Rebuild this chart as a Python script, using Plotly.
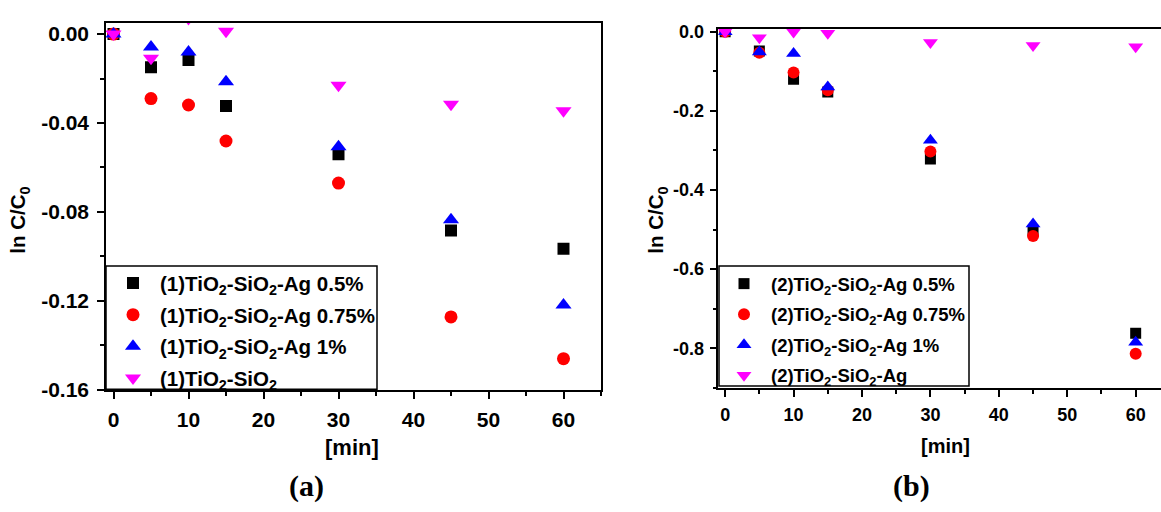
import plotly.graph_objects as go

W, H = 1161, 512

# ---------------- data ----------------
time_min = [0, 5, 10, 15, 30, 45, 60]

# panel (a)
a_ag05 = [0, -0.0149, -0.0117, -0.0323, -0.054, -0.0883, -0.0965]
a_ag075 = [0, -0.029, -0.0319, -0.0481, -0.067, -0.1272, -0.146]
a_ag1 = [0, -0.0058, -0.0081, -0.0214, -0.0507, -0.0835, -0.1219]
a_tisi = [0, -0.0109, 0.007, 0.0013, -0.023, -0.0316, -0.0345]

# panel (b)
b_ag05 = [0, -0.0487, -0.120, -0.1525, -0.3216, -0.503, -0.762]
b_ag075 = [0, -0.053, -0.103, -0.148, -0.303, -0.516, -0.814]
b_ag1 = [0, -0.051, -0.055, -0.140, -0.274, -0.486, -0.785]
b_tisiag = [0, -0.015, -0.001, -0.004, -0.027, -0.035, -0.038]

names_a = ["(1)TiO<sub>2</sub>-SiO<sub>2</sub>-Ag 0.5%",
           "(1)TiO<sub>2</sub>-SiO<sub>2</sub>-Ag 0.75%",
           "(1)TiO<sub>2</sub>-SiO<sub>2</sub>-Ag 1%",
           "(1)TiO<sub>2</sub>-SiO<sub>2</sub>"]
names_b = ["(2)TiO<sub>2</sub>-SiO<sub>2</sub>-Ag 0.5%",
           "(2)TiO<sub>2</sub>-SiO<sub>2</sub>-Ag 0.75%",
           "(2)TiO<sub>2</sub>-SiO<sub>2</sub>-Ag 1%",
           "(2)TiO<sub>2</sub>-SiO<sub>2</sub>-Ag"]

colors = ["#000000", "#FF0000", "#0000FF", "#FF00FF"]
symbols = ["square", "circle", "triangle-up", "triangle-down"]
sizes_a = [12, 13, 14, 14]
sizes_b = [11, 12, 13, 13]

FONT = "Liberation Sans, Arial, sans-serif"
SERIF = "Liberation Serif, Times New Roman, serif"

fig = go.Figure()

for i, (ys, nm) in enumerate(zip([a_ag05, a_ag075, a_ag1, a_tisi], names_a)):
    fig.add_trace(go.Scatter(
        x=time_min, y=ys, mode="markers", name=nm,
        marker=dict(symbol=symbols[i], color=colors[i], size=sizes_a[i], line=dict(width=0)),
        xaxis="x", yaxis="y", legend="legend", legendgroup="a%d" % i))

for i, (ys, nm) in enumerate(zip([b_ag05, b_ag075, b_ag1, b_tisiag], names_b)):
    fig.add_trace(go.Scatter(
        x=time_min, y=ys, mode="markers", name=nm,
        marker=dict(symbol=symbols[i], color=colors[i], size=sizes_b[i], line=dict(width=0)),
        xaxis="x2", yaxis="y2", legend="legend2", legendgroup="b%d" % i))


def px_x(p):
    return p / W


def px_y(p):
    return 1 - p / H


axis_common = dict(showgrid=False, zeroline=False, showline=True, linecolor="black",
                   linewidth=1.5, ticks="outside", tickcolor="black", tickwidth=1.5,
                   ticklen=7)
minor_common = dict(ticks="outside", ticklen=4, tickcolor="black", tickwidth=1.5)

fig.update_layout(
    width=W, height=H,
    margin=dict(l=0, r=0, t=0, b=0),
    paper_bgcolor="white", plot_bgcolor="white",
    xaxis=dict(**axis_common, domain=[px_x(106), px_x(601)], range=[-1, 65],
               tickvals=[0, 10, 20, 30, 40, 50, 60], mirror=True, anchor="y",
               ticklabelstandoff=3,
               minor=dict(dtick=5, tick0=0, **minor_common),
               tickfont=dict(family=FONT, size=21, color="black", weight="bold")),
    yaxis=dict(**axis_common, domain=[px_y(397), px_y(17.3)], range=[-0.16, 0.0051],
               tickvals=[0, -0.04, -0.08, -0.12, -0.16], ticktext=["0.00", "-0.04", "-0.08", "-0.12", "-0.16"],
               mirror=True, anchor="x", ticklabelstandoff=4,
               minor=dict(dtick=0.02, tick0=0, **minor_common),
               tickfont=dict(family=FONT, size=21, color="black", weight="bold")),
    xaxis2=dict(**axis_common, domain=[px_x(718.3), 1.0], range=[-1, 63.7],
                tickvals=[0, 10, 20, 30, 40, 50, 60], mirror=True, anchor="y2",
                ticklabelstandoff=3,
                minor=dict(dtick=5, tick0=0, **minor_common),
                tickfont=dict(family=FONT, size=18, color="black", weight="bold")),
    yaxis2=dict(**axis_common, domain=[px_y(395), px_y(23.3)], range=[-0.9, 0.008],
                tickvals=[0, -0.2, -0.4, -0.6, -0.8], ticktext=["0.0", "-0.2", "-0.4", "-0.6", "-0.8"],
                mirror=False, anchor="x2", ticklabelstandoff=2,
                minor=dict(dtick=0.1, tick0=0, **minor_common),
                tickfont=dict(family=FONT, size=18, color="black", weight="bold")),
    showlegend=True,
    legend=dict(x=px_x(106), y=px_y(266), xanchor="left", yanchor="top",
                bgcolor="rgba(0,0,0,0)", borderwidth=0, itemwidth=44, tracegroupgap=2,
                font=dict(family=FONT, size=20.5, color="black", weight="bold")),
    legend2=dict(x=px_x(717), y=px_y(268), xanchor="left", yanchor="top",
                 bgcolor="rgba(0,0,0,0)", borderwidth=0, itemwidth=44, tracegroupgap=3.5,
                 font=dict(family=FONT, size=18.5, color="black", weight="bold")),
    shapes=[
        dict(type="rect", xref="paper", yref="paper", x0=px_x(106), x1=px_x(377),
             y0=px_y(396.5), y1=px_y(269), line=dict(color="black", width=1.5),
             fillcolor="white", layer="above"),
        dict(type="rect", xref="paper", yref="paper", x0=px_x(719), x1=px_x(969),
             y0=px_y(393), y1=px_y(269), line=dict(color="black", width=1.5),
             fillcolor="white", layer="above"),
    ],
    annotations=[
        dict(text="<b>ln C/C<sub>0</sub></b>", xref="paper", yref="paper", x=px_x(19), y=px_y(222),
             textangle=-90, showarrow=False, xanchor="center", yanchor="middle",
             font=dict(family=FONT, size=20.5, color="black")),
        dict(text="<b>ln C/C<sub>0</sub></b>", xref="paper", yref="paper", x=px_x(657), y=px_y(222),
             textangle=-90, showarrow=False, xanchor="center", yanchor="middle",
             font=dict(family=FONT, size=20.5, color="black")),
        dict(text="<b>[min]</b>", xref="paper", yref="paper", x=px_x(352), y=px_y(457),
             showarrow=False, xanchor="center", yanchor="middle",
             font=dict(family=FONT, size=22, color="black")),
        dict(text="<b>[min]</b>", xref="paper", yref="paper", x=px_x(945), y=px_y(455),
             showarrow=False, xanchor="center", yanchor="middle",
             font=dict(family=FONT, size=20, color="black")),
        dict(text="<b>(a)</b>", xref="paper", yref="paper", x=px_x(306), y=px_y(496),
             showarrow=False, xanchor="center", yanchor="middle",
             font=dict(family=SERIF, size=30, color="black")),
        dict(text="<b>(b)</b>", xref="paper", yref="paper", x=px_x(911), y=px_y(497),
             showarrow=False, xanchor="center", yanchor="middle",
             font=dict(family=SERIF, size=30, color="black")),
    ],
)

fig.write_html("out.html")
